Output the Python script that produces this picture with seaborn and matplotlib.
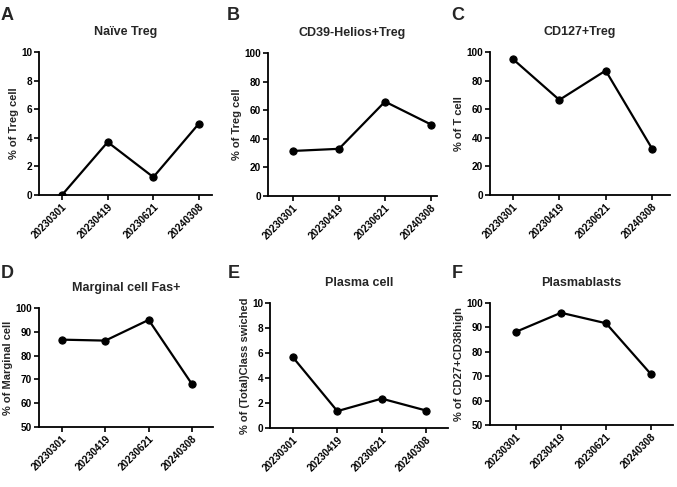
import matplotlib
matplotlib.use("Agg")
import matplotlib.pyplot as plt
import seaborn as sns
import pandas as pd

dates = ["20230301", "20230419", "20230621", "20240308"]

naive_treg = [0.0, 3.7, 1.25, 5.0]
cd39_helios_treg = [31.5, 33.0, 66.0, 50.0]
cd127_treg = [95.0, 66.5, 87.0, 32.5]
marginal_fas = [86.7, 86.3, 95.0, 68.0]
plasma_cell = [5.65, 1.35, 2.35, 1.4]
plasmablasts = [88.2, 96.0, 91.7, 70.8]

letters = ["A", "B", "C", "D", "E", "F"]
titles = ["Naïve Treg", "CD39-Helios+Treg", "CD127+Treg",
          "Marginal cell Fas+", "Plasma cell", "Plasmablasts"]
ylabels = ["% of Treg cell", "% of Treg cell", "% of T cell",
           "% of Marginal cell", "% of (Total)Class swiched", "% of CD27+CD38high"]
series = [naive_treg, cd39_helios_treg, cd127_treg, marginal_fas, plasma_cell, plasmablasts]
ylims = [(0, 10), (0, 100), (0, 100), (50, 100), (0, 10), (50, 100)]
yticks = [[0, 2, 4, 6, 8, 10], [0, 20, 40, 60, 80, 100], [0, 20, 40, 60, 80, 100],
          [50, 60, 70, 80, 90, 100], [0, 2, 4, 6, 8, 10], [50, 60, 70, 80, 90, 100]]

sns.set_style("ticks")
plt.rcParams["font.family"] = ["Liberation Sans", "DejaVu Sans"]
plt.rcParams["font.weight"] = "bold"
plt.rcParams["axes.labelweight"] = "bold"
plt.rcParams["axes.titleweight"] = "bold"

W, H = 677, 487
fig = plt.figure(figsize=(W / 100, H / 100), dpi=100)
fig.patch.set_facecolor("white")

# layout in pixels: left spine, right spine, first point, last point, top, bottom
layout = [
    (39, 212, 62, 199, 52, 195),
    (268, 437, 293, 431, 53, 196),
    (490, 670, 513, 652, 52, 195),
    (39, 213, 62, 192, 308, 427),
    (270, 448, 293, 426, 303, 428),
    (490, 673, 516, 651, 303, 425),
]
letter_pos = [(7, 15), (233, 15), (458, 15), (7, 273), (234, 273), (457, 273)]

for i in range(6):
    l, r, p0, p3, t, b = layout[i]
    ax = fig.add_axes([l / W, (H - b) / H, (r - l) / W, (b - t) / H])
    sp = (p3 - p0) / 3
    df = pd.DataFrame({"x": range(4), "y": series[i]})
    sns.lineplot(data=df, x="x", y="y", ax=ax, color="black", linewidth=1.6,
                 marker="o", markersize=5.2, markeredgecolor="black")
    ax.set_xlim(-(p0 - l) / sp, 3 + (r - p3) / sp)
    ax.set_ylim(*ylims[i])
    ax.set_yticks(yticks[i])
    ax.set_xticks(range(4))
    ax.set_xticklabels(dates, rotation=45, ha="right", rotation_mode="anchor",
                       fontsize=7.2, fontweight="bold")
    for lab in ax.get_yticklabels():
        lab.set_fontsize(7.2)
        lab.set_fontweight("bold")
    ax.set_xlabel("")
    ax.set_ylabel(ylabels[i], fontsize=8, fontweight="bold", labelpad=1.5)
    ax.set_title(titles[i], fontsize=9, fontweight="bold", pad=12)
    for s in ["top", "right"]:
        ax.spines[s].set_visible(False)
    for s in ["left", "bottom"]:
        ax.spines[s].set_linewidth(1.3)
        ax.spines[s].set_color("black")
    ax.tick_params(axis="both", direction="out", length=3.5, width=1.2, colors="black", pad=1.5)
    ax.set_facecolor("white")
    ax.grid(False)
    lx, ly = letter_pos[i]
    fig.text(lx / W, 1 - ly / H, letters[i], fontsize=13, fontweight="bold",
             ha="center", va="center")

fig.savefig("out.png", dpi=100, facecolor="white")
